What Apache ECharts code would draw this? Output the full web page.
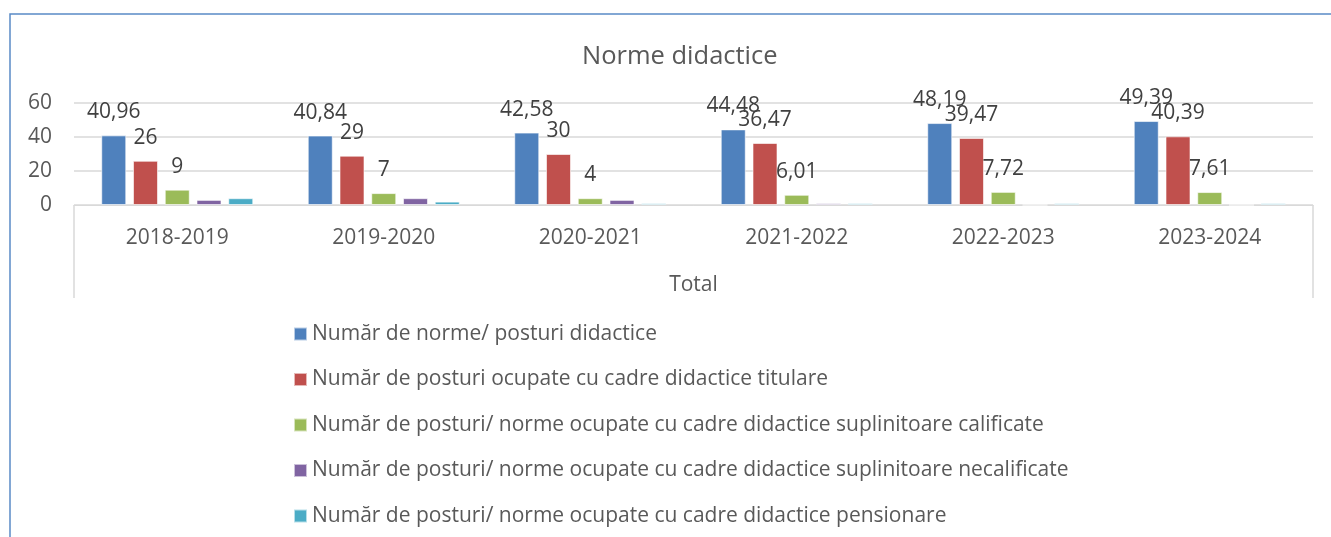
<!DOCTYPE html>
<html>
<head>
<meta charset="utf-8">
<script src="https://cdn.jsdelivr.net/npm/echarts@6/dist/echarts.min.js"></script>
<style>
  html, body { margin: 0; padding: 0; background: #fff; }
  #chart { width: 1331px; height: 537px; }
</style>
</head>
<body>
<div id="chart"></div>
<script>
const years = ['2018-2019', '2019-2020', '2020-2021', '2021-2022', '2022-2023', '2023-2024'];

const seriesNames = [
  'Număr de norme/ posturi didactice',
  'Număr de posturi ocupate cu cadre didactice titulare',
  'Număr de posturi/ norme ocupate cu cadre didactice suplinitoare calificate',
  'Număr de posturi/ norme ocupate cu cadre didactice suplinitoare necalificate',
  'Număr de posturi/ norme ocupate cu cadre didactice pensionare'
];

const norme = [40.96, 40.84, 42.58, 44.48, 48.19, 49.39];
const titulare = [26, 29, 30, 36.47, 39.47, 40.39];
const calificate = [9, 7, 4, 6.01, 7.72, 7.61];
const necalificate = [3, 4, 3, 1, 0, 0];
const pensionare = [4, 2, 1, 1, 1, 1];

const colors = ['#4f81bd', '#c0504d', '#9bbb59', '#8064a2', '#4bacc6'];

// plot box (px)
const gLeft = 74, gRight = 18, gTop = 103, gBottom = 332;
const W = 1331, H = 537;
const FONT = 'Open Sans';

const chart = echarts.init(document.getElementById('chart'));

const fmt = (p) => String(p.value).replace('.', ',');

const makeBar = (name, data, color, showLabel) => ({
  name,
  type: 'bar',
  data,
  barWidth: 25,
  barGap: '27%',
  itemStyle: { color, borderColor: 'rgba(255,255,255,0.6)', borderWidth: 1 },
  label: {
    show: showLabel,
    position: 'top',
    distance: 12,
    formatter: fmt,
    color: '#404040',
    fontSize: 21,
    lineHeight: 22,
    fontFamily: FONT
  }
});

const axisBottom = H - gBottom;

const option = {
  backgroundColor: '#fff',
  animation: false,
  title: {
    text: 'Norme didactice',
    left: 577,
    top: 39,
    textStyle: { color: '#595959', fontSize: 25.5, fontWeight: 'normal', fontFamily: FONT }
  },
  grid: { left: gLeft, right: gRight, top: gTop, bottom: gBottom, containLabel: false },
  legend: {
    orient: 'vertical',
    left: 293,
    top: 323,
    padding: 0,
    itemWidth: 13,
    itemHeight: 13,
    itemGap: 23.5,
    icon: 'rect',
    textStyle: { color: '#595959', fontSize: 21, lineHeight: 22, fontFamily: FONT },
    data: seriesNames
  },
  xAxis: {
    type: 'category',
    data: years,
    name: 'Total',
    nameLocation: 'middle',
    nameGap: 70,
    nameTextStyle: { color: '#595959', fontSize: 21, fontFamily: FONT },
    axisLine: { lineStyle: { color: '#d9d9d9', width: 1 } },
    axisTick: { show: false },
    axisLabel: { color: '#595959', fontSize: 21, margin: 23, fontFamily: FONT }
  },
  yAxis: {
    type: 'value',
    min: 0,
    max: 60,
    interval: 20,
    axisLine: { show: false },
    axisTick: { show: false },
    axisLabel: { color: '#595959', fontSize: 21, margin: 22, fontFamily: FONT },
    splitLine: { lineStyle: { color: '#d9d9d9', width: 1.5 } }
  },
  series: [
    makeBar(seriesNames[0], norme, colors[0], true),
    makeBar(seriesNames[1], titulare, colors[1], true),
    makeBar(seriesNames[2], calificate, colors[2], true),
    makeBar(seriesNames[3], necalificate, colors[3], false),
    makeBar(seriesNames[4], pensionare, colors[4], false)
  ],
  graphic: [
    {
      type: 'rect',
      shape: { x: 10, y: 14, width: 1400, height: 600 },
      style: { fill: 'none', stroke: '#5a8ac6', lineWidth: 1.5 },
      silent: true
    },
    {
      type: 'line',
      shape: { x1: gLeft, y1: axisBottom, x2: gLeft, y2: axisBottom + 93 },
      style: { stroke: '#d9d9d9', lineWidth: 1.5 },
      silent: true
    },
    {
      type: 'line',
      shape: { x1: W - gRight, y1: axisBottom, x2: W - gRight, y2: axisBottom + 93 },
      style: { stroke: '#d9d9d9', lineWidth: 1.5 },
      silent: true
    }
  ]
};

chart.setOption(option);
</script>
</body>
</html>
